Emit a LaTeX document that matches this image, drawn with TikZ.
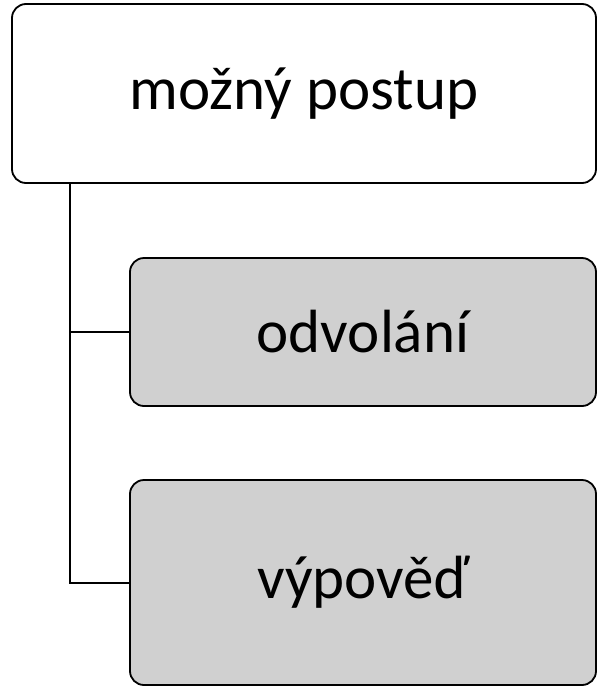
\documentclass[tikz,border=0pt]{standalone}
\usepackage{fontspec}
\setmainfont{Carlito}
\definecolor{boxgray}{RGB}{208,208,208}
\tikzset{
  box/.style={draw=black, line width=1.8pt, rounded corners=14pt, inner sep=0pt,
    font=\fontsize{61}{70}\selectfont},
  link/.style={draw=black, line width=2pt}
}
\begin{document}
\begin{tikzpicture}[x=1pt,y=-1pt]
  \useasboundingbox (0,0) rectangle (598,686);
  \node[box, fill=white, minimum width=584pt, minimum height=179pt] (top) at (304,93.5) {možný postup};
  \node[box, fill=boxgray, minimum width=466pt, minimum height=148pt] (b2) at (363,332) {odvolání};
  \node[box, fill=boxgray, minimum width=466pt, minimum height=205pt] (b3) at (363,582.5) {výpověď};
  \coordinate (trunk) at ([xshift=59pt]top.south west);
  \draw[link] (trunk) |- (b2.west);
  \draw[link] (trunk) |- (b3.west);
\end{tikzpicture}
\end{document}
